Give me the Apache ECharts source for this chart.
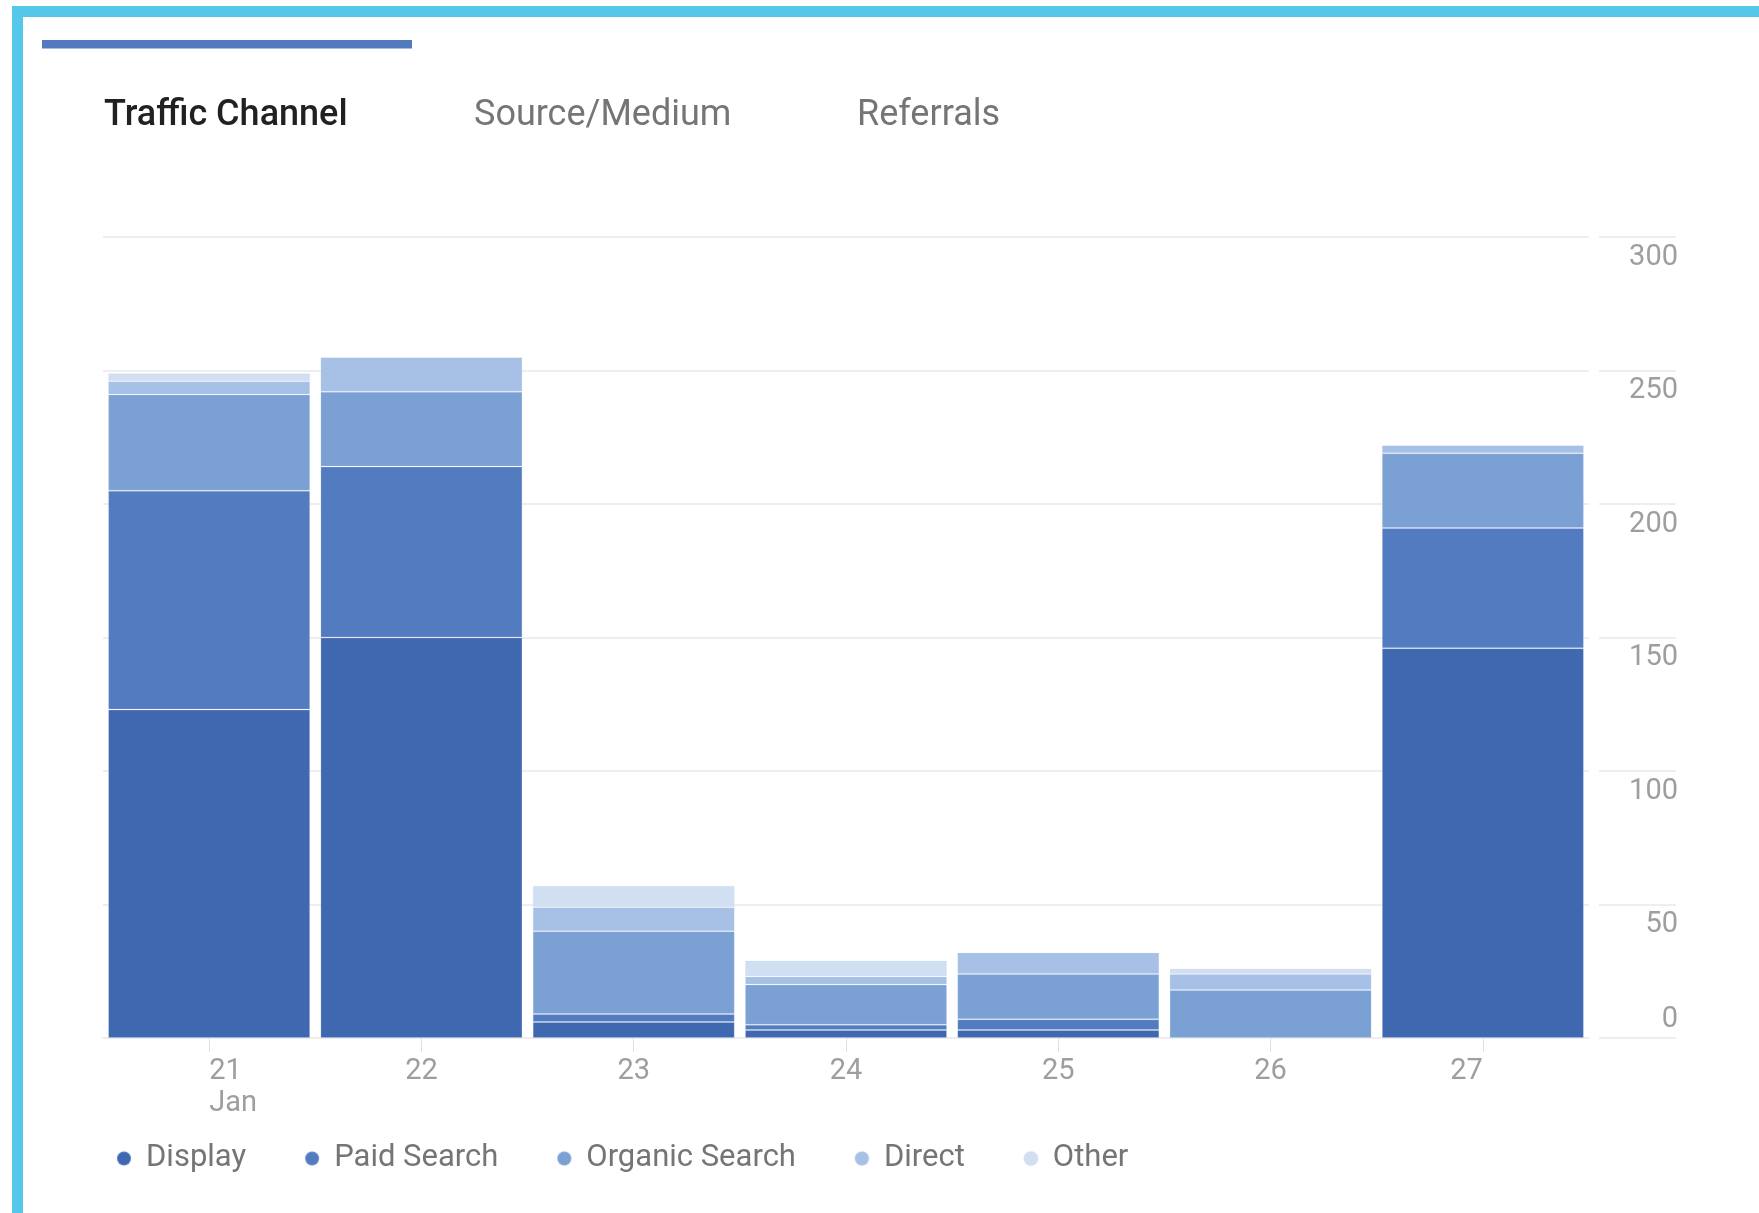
<!DOCTYPE html>
<html>
<head>
<meta charset="utf-8">
<style>
  html, body { margin: 0; padding: 0; background: #ffffff; }
  #chart { width: 1759px; height: 1213px; }
</style>
<script src="https://cdn.jsdelivr.net/npm/echarts@6/dist/echarts.min.js"></script>
</head>
<body>
<div id="chart"></div>
<script>
// ---- data ----
var categories = ['21', '22', '23', '24', '25', '26', '27'];
var monthLabel = 'Jan';
var seriesNames = ['Display', 'Paid Search', 'Organic Search', 'Direct', 'Other'];
var display = [123, 150, 6, 3, 3, 0, 146];
var paidSearch = [82, 64, 3, 2, 4, 0, 45];
var organicSearch = [36, 28, 31, 15, 17, 18, 28];
var direct = [5, 13, 9, 3, 8, 6, 3];
var other = [3, 0, 8, 6, 0, 2, 0];
var yTicks = [0, 50, 100, 150, 200, 250, 300];
var tabs = ['Traffic Channel', 'Source/Medium', 'Referrals'];

var colors = ['#3f68b0', '#527cbf', '#7ba0d4', '#a7c0e5', '#d1dff2'];
var seriesValues = [display, paidSearch, organicSearch, direct, other];

var chart = echarts.init(document.getElementById('chart'), null, { renderer: 'canvas' });

var xData = categories.map(function (c, i) {
  var item = { value: c };
  if (i === 0) item.textStyle = { align: 'left' };
  if (i === categories.length - 1) item.textStyle = { align: 'right' };
  return item;
});

var series = seriesNames.map(function (name, si) {
  return {
    name: name,
    type: 'bar',
    stack: 'total',
    barWidth: 202,
    itemStyle: { color: colors[si], borderColor: 'rgba(200,216,242,0.22)', borderWidth: 1 },
    emphasis: { disabled: true },
    data: seriesValues[si].map(function (v) { return v === 0 ? '-' : v; })
  };
});

var option = {
  animation: false,
  backgroundColor: '#ffffff',
  textStyle: { fontFamily: 'Roboto' },
  graphic: [
    { type: 'rect', left: 12, top: 6, shape: { width: 1747, height: 11 }, style: { fill: '#55c8ea' }, z: 10 },
    { type: 'rect', left: 12, top: 6, shape: { width: 11, height: 1207 }, style: { fill: '#55c8ea' }, z: 10 },
    { type: 'rect', left: 42, top: 40, shape: { width: 370, height: 8.5 }, style: { fill: '#527bbf' }, z: 10 },
    { type: 'text', x: 104, y: 116, style: { text: tabs[0], font: '500 36px Roboto', fill: '#212121', textVerticalAlign: 'middle', verticalAlign: 'middle' } },
    { type: 'text', x: 474, y: 116, style: { text: tabs[1], font: '400 36px Roboto', fill: '#757575', textVerticalAlign: 'middle', verticalAlign: 'middle' } },
    { type: 'text', x: 857, y: 116, style: { text: tabs[2], font: '400 36px Roboto', fill: '#757575', textVerticalAlign: 'middle', verticalAlign: 'middle' } }
  ],
  legend: {
    data: seriesNames,
    left: 111,
    top: 1138,
    icon: 'circle',
    itemWidth: 34,
    itemHeight: 14,
    itemGap: 58,
    selectedMode: false,
    textStyle: { fontFamily: 'Roboto', fontSize: 31, color: '#757575' }
  },
  grid: { left: 103, right: 170, top: 237, bottom: 175, containLabel: false },
  xAxis: {
    type: 'category',
    data: xData,
    axisLine: { show: true, lineStyle: { color: '#eeeeee', width: 2 } },
    axisTick: { show: true, alignWithLabel: true, length: 14, lineStyle: { color: '#e0e0e0', width: 1 } },
    axisLabel: {
      margin: 18,
      fontFamily: 'Roboto',
      fontSize: 29,
      lineHeight: 32,
      color: '#9e9e9e',
      interval: 0,
      formatter: function (v, i) { return i === 0 ? v + '\n' + monthLabel : v; }
    }
  },
  yAxis: {
    type: 'value',
    position: 'right',
    min: yTicks[0],
    max: yTicks[yTicks.length - 1],
    interval: yTicks[1] - yTicks[0],
    offset: 10,
    axisLine: { show: false },
    axisTick: { show: true, inside: false, length: 77, lineStyle: { color: '#eeeeee', width: 2 } },
    splitLine: { show: true, lineStyle: { color: '#eeeeee', width: 2 } },
    axisLabel: {
      align: 'right',
      margin: 79,
      fontFamily: 'Roboto',
      fontSize: 29,
      color: '#9e9e9e',
      formatter: function (v) { return v === 0 ? '{z|' + v + '}' : '{n|' + v + '}'; },
      rich: {
        n: { fontFamily: 'Roboto', fontSize: 29, color: '#9e9e9e', padding: [41, 0, 0, 0] },
        z: { fontFamily: 'Roboto', fontSize: 29, color: '#9e9e9e', padding: [0, 0, 37, 0] }
      }
    }
  },
  series: series
};

chart.setOption(option);
</script>
</body>
</html>
